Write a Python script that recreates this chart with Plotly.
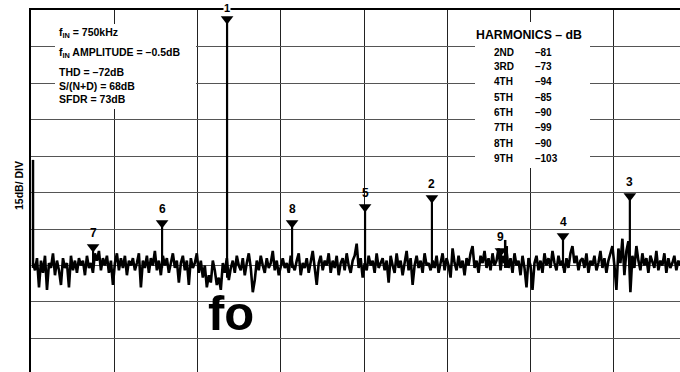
import numpy as np
import plotly.graph_objects as go

# ---------------- data ----------------
BIN_KHZ = 7.5  # spacing of the noise-floor samples, kHz

noise_db = [
    -104,-107,-102,-114,-103,-108,-101,-115,-104,-106,-100,-109,-103,-107,-113,-102,-106,-104,-114,-101,-107,-103,-108,-102,-105,
    -103,-109,-101,-106,-104,-108,-100,-103,-99,-107,-102,-105,-101,-108,-103,-113,-104,-100,-107,-102,-106,-101,-109,-103,-105,
    -102,-107,-104,-100,-114,-103,-106,-101,-108,-102,-105,-99,-107,-103,-109,-101,-105,-102,-108,-104,-100,-106,-103,-112,-104,
    -101,-107,-103,-113,-102,-106,-104,-100,-108,-103,-110,-105,-114,-109,-112,-103,-107,-113,-110,-115,-104,-108,-102,-111,-106,
    -103,-108,-101,-105,-107,-102,-109,-104,-100,-106,-116,-111,-103,-107,-101,-105,-108,-102,-106,-104,-99,-107,-103,-109,-105,
    -102,-106,-104,-108,-101,-105,-107,-103,-100,-109,-104,-106,-102,-108,-103,-99,-106,-113,-104,-101,-107,-103,-105,-100,-108,
    -103,-106,-101,-109,-104,-102,-107,-100,-105,-108,-103,-101,-96,-106,-102,-110,-104,-107,-101,-105,-103,-108,-100,-106,-104,
    -102,-107,-103,-112,-101,-105,-108,-100,-106,-103,-109,-104,-99,-107,-102,-113,-105,-101,-106,-103,-108,-100,-105,-104,-107,
    -103,-106,-101,-108,-104,-100,-107,-102,-105,-110,-98,-104,-107,-101,-106,-103,-109,-102,-105,-100,-97,-106,-103,-108,-101,
    -104,-99,-106,-102,-107,-100,-105,-103,-98,-107,-101,-104,-99,-106,-102,-108,-100,-105,-103,-109,-101,-106,-114,-102,-105,
    -115,-104,-101,-107,-103,-108,-100,-105,-102,-106,-99,-104,-107,-101,-105,-103,-108,-102,-106,-100,-97,-104,-101,-107,-103,
    -102,-106,-100,-108,-103,-105,-101,-107,-104,-99,-106,-102,-108,-103,-100,-97,-105,-115,-98,-104,-94,-109,-99,-95,-116,
    -101,-106,-97,-103,-107,-100,-105,-102,-108,-101,-104,-106,-99,-107,-103,-105,-100,-108,-102,-106,-104,-101,-107,-103,-105,
]

# marked tones: fundamental (1) and harmonics 2..9, as drawn (kHz, dB)
tone_labels = ["1", "2", "3", "4", "5", "6", "7", "8", "9"]
tone_freq_khz = [736, 1505, 2248, 1997, 1254, 492, 233, 980, 1764]
tone_db = [-3.7, -77.3, -76.4, -92.9, -81.0, -87.5, -97.4, -87.5, -99.0]

# DC component and small spurs
spur_freq_khz = [7.5, 1780, 1786]
spur_db = [-61.6, -94.5, -97.0]

# text read-outs
info_lines = ["f<sub>IN</sub> = 750kHz", "f<sub>IN</sub> AMPLITUDE = –0.5dB",
              "THD = –72dB", "S/(N+D) = 68dB", "SFDR = 73dB"]
harm_names = ["2ND", "3RD", "4TH", "5TH", "6TH", "7TH", "8TH", "9TH"]
harm_values = ["–81", "–73", "–94", "–85", "–90", "–99", "–90", "–103"]

# ---------------- layout constants ----------------
W, H = 680, 372
ML, MT = 31, 10
X_MAX = 2436.2          # kHz visible at right edge
Y_MIN = -148.77         # dB at bottom edge
PW, PH = W - ML, H - MT
FLOOR = -106

def px(x):  # pixel x -> kHz
    return (x - ML) / PW * X_MAX

def py(y):  # pixel y -> dB
    return -(y - MT) / PH * (-Y_MIN)

FONT = "Liberation Sans, Arial, sans-serif"

fig = go.Figure()

# noise floor
noise_freq = BIN_KHZ * np.arange(1, len(noise_db) + 1)
fig.add_trace(go.Scatter(x=noise_freq, y=noise_db, mode="lines",
                         line=dict(color="black", width=2.6), hoverinfo="skip"))

# tone lines
lx, ly = [], []
for f, d in zip(tone_freq_khz, tone_db):
    lx += [f, f, None]
    ly += [FLOOR - (4 if d > -10 else 0), d, None]
fig.add_trace(go.Scatter(x=lx, y=ly, mode="lines",
                         line=dict(color="black", width=2.2), hoverinfo="skip"))

# spurs (DC etc.)
sx, sy = [], []
for f, d in zip(spur_freq_khz, spur_db):
    sx += [f, f, None]
    sy += [FLOOR, d, None]
fig.add_trace(go.Scatter(x=sx, y=sy, mode="lines",
                         line=dict(color="black", width=2.5), hoverinfo="skip"))

# triangle markers
fig.add_trace(go.Scatter(x=tone_freq_khz, y=tone_db, mode="markers",
                         marker=dict(symbol="triangle-down", size=11, color="black",
                                     line=dict(width=0)),
                         cliponaxis=False, hoverinfo="skip"))

# tone labels
for lab, f, d in zip(tone_labels, tone_freq_khz, tone_db):
    if lab == "1":
        fig.add_annotation(x=f, y=d, text=lab, showarrow=False, yshift=11,
                           font=dict(family=FONT, size=11, color="black", weight="bold"),
                           bgcolor="white", borderpad=0)
    else:
        fig.add_annotation(x=f, y=d, text=lab, showarrow=False, yshift=14,
                           font=dict(family=FONT, size=12, color="black", weight="bold"))

# white boxes behind the read-outs
fig.add_shape(type="rect", x0=px(55), x1=px(196), y0=py(24), y1=py(109),
              fillcolor="white", line=dict(width=0), layer="between")
fig.add_shape(type="rect", x0=px(475), x1=px(590), y0=py(22), y1=py(168),
              fillcolor="white", line=dict(width=0), layer="between")

info_y = [33, 53, 72, 86, 99]
for t, yy in zip(info_lines, info_y):
    fig.add_annotation(x=px(57), y=py(yy), text=t, showarrow=False,
                       xanchor="left", yanchor="middle",
                       font=dict(family=FONT, size=10.5, color="black", weight="bold"))

fig.add_annotation(x=px(529), y=py(35), text="HARMONICS – dB", showarrow=False,
                   xanchor="center", yanchor="middle",
                   font=dict(family=FONT, size=12.3, color="black", weight="bold"))
row_y = [52, 66, 81, 97, 112, 127, 143, 158]
for n, v, yy in zip(harm_names, harm_values, row_y):
    fig.add_annotation(x=px(492), y=py(yy), text=n, showarrow=False,
                       xanchor="left", yanchor="middle",
                       font=dict(family=FONT, size=10, color="black", weight="bold"))
    fig.add_annotation(x=px(533), y=py(yy), text=v, showarrow=False,
                       xanchor="left", yanchor="middle",
                       font=dict(family=FONT, size=10, color="black", weight="bold"))

fig.add_annotation(xref="paper", yref="y", x=-(ML - 19) / PW, y=py(186),
                   text="15dB/ DIV", textangle=-90, showarrow=False,
                   xanchor="center", yanchor="middle",
                   font=dict(family=FONT, size=10.5, color="black", weight="bold"))

fig.add_annotation(x=px(231), y=py(313), text="fo", showarrow=False,
                   xanchor="center", yanchor="middle",
                   font=dict(family=FONT, size=49, color="black", weight="bold"))

fig.update_layout(
    width=W, height=H, margin=dict(l=ML, r=0, t=MT, b=0),
    paper_bgcolor="white", plot_bgcolor="white", showlegend=False,
    xaxis=dict(range=[0, X_MAX], tick0=0, dtick=312.5, showgrid=True,
               gridcolor="#222", gridwidth=1, showticklabels=False, ticks="",
               zeroline=False, side="top", showline=True, linecolor="black",
               linewidth=2),
    yaxis=dict(range=[Y_MIN, 0], tick0=0, dtick=15, showgrid=True,
               gridcolor="#555", gridwidth=1, showticklabels=False, ticks="",
               zeroline=False, showline=True, linecolor="black", linewidth=2),
)

fig.write_html("out.html")
